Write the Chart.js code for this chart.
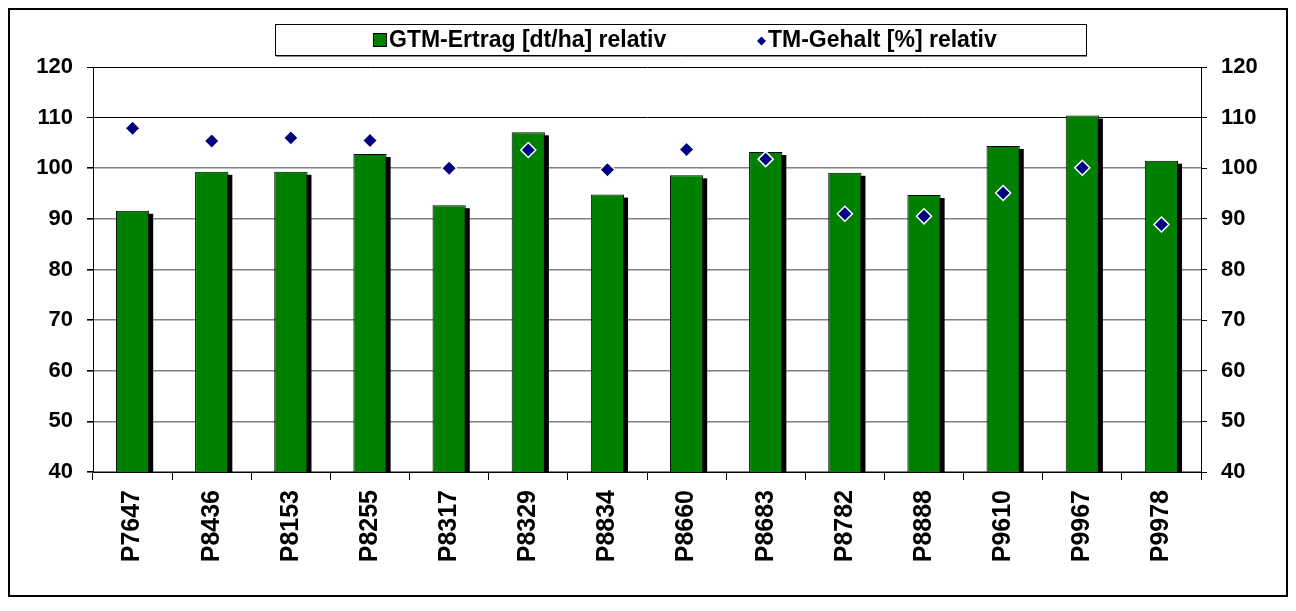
<!DOCTYPE html>
<html>
<head>
<meta charset="utf-8">
<script src="https://cdn.jsdelivr.net/npm/chart.js@4/dist/chart.umd.min.js"></script>
<style>
  html, body { margin: 0; padding: 0; background: #fff; }
  #wrap { position: relative; width: 1296px; height: 611px; }
</style>
</head>
<body>
<div id="wrap"><canvas id="c" width="1296" height="611"></canvas></div>
<script>
const categories = ['P7647','P8436','P8153','P8255','P8317','P8329','P8834','P8660','P8683','P8782','P8888','P9610','P9967','P9978'];
const gtmErtrag = [91.6, 99.3, 99.3, 102.8, 92.7, 107.1, 94.8, 98.6, 103.2, 99.1, 94.7, 104.4, 110.4, 101.5];
const tmGehalt = [107.9, 105.4, 106.0, 105.5, 100.0, 103.6, 99.7, 103.7, 101.8, 91.0, 90.5, 95.1, 100.1, 88.9];
const yTicks = [40, 50, 60, 70, 80, 90, 100, 110, 120];
const seriesNames = ['GTM-Ertrag [dt/ha] relativ', 'TM-Gehalt [%] relativ'];

const FONT = '"Liberation Sans", Arial, sans-serif';

const framePlugin = {
  id: 'frame',
  beforeDraw(chart) {
    const ctx = chart.ctx;
    ctx.save();
    ctx.fillStyle = '#fff';
    ctx.fillRect(0, 0, chart.width, chart.height);
    ctx.strokeStyle = '#000';
    ctx.lineWidth = 2;
    ctx.strokeRect(9, 9, 1278, 587);
    ctx.restore();
  }
};

// Draws a solid black drop shadow behind each bar, from the bar elements' own geometry
const shadowPlugin = {
  id: 'barShadow',
  beforeDatasetDraw(chart, args) {
    if (args.index !== 0) return;
    const ctx = chart.ctx;
    const area = chart.chartArea;
    const meta = chart.getDatasetMeta(0);
    ctx.save();
    ctx.beginPath();
    ctx.rect(area.left, area.top, area.right - area.left, area.bottom - area.top);
    ctx.clip();
    ctx.fillStyle = '#000';
    meta.data.forEach(bar => {
      const p = bar.getProps(['x', 'y', 'base', 'width'], true);
      const left = p.x - p.width / 2 + 4;
      const top = Math.min(p.y, p.base) + 3;
      ctx.fillRect(left, top, p.width, Math.abs(p.base - p.y));
    });
    ctx.restore();
  }
};

const legendPlugin = {
  id: 'boxLegend',
  afterDraw(chart) {
    const ctx = chart.ctx;
    const ds = chart.data.datasets;
    ctx.save();
    ctx.strokeStyle = '#000';
    ctx.lineWidth = 1;
    ctx.strokeRect(275.5, 24.5, 811, 31);
    ctx.strokeStyle = '#888';
    ctx.beginPath(); ctx.moveTo(276, 56.5); ctx.lineTo(1087, 56.5); ctx.stroke();
    ctx.font = 'bold 23px ' + FONT;
    ctx.textBaseline = 'middle';
    ctx.textAlign = 'left';
    const cy = 40.5;
    ctx.fillStyle = ds[0].backgroundColor;
    ctx.fillRect(373.5, 33.5, 13, 13);
    ctx.strokeStyle = '#000';
    ctx.strokeRect(373.5, 33.5, 13, 13);
    ctx.fillStyle = '#000';
    ctx.fillText(ds[0].label, 389, cy);
    ctx.fillStyle = ds[1].backgroundColor;
    ctx.beginPath();
    ctx.moveTo(761.5, 36.5); ctx.lineTo(766, 41); ctx.lineTo(761.5, 45.5); ctx.lineTo(757, 41);
    ctx.closePath(); ctx.fill();
    ctx.fillStyle = '#000';
    ctx.fillText(ds[1].label, 768, cy);
    ctx.restore();
  }
};

const gridColor = (c) => (c.tick && c.tick.value >= 110) ? '#000' : '#808080';
const gridWidth = (c) => (c.tick && c.tick.value >= 110) ? 1 : 1.6;

new Chart(document.getElementById('c'), {
  data: {
    labels: categories,
    datasets: [
      {
        type: 'bar',
        label: seriesNames[0],
        data: gtmErtrag,
        backgroundColor: '#008000',
        borderColor: '#000',
        borderWidth: 1,
        barPercentage: 0.42,
        categoryPercentage: 1,
        yAxisID: 'y',
        order: 2
      },
      {
        type: 'line',
        label: seriesNames[1],
        data: tmGehalt,
        showLine: false,
        pointStyle: 'rectRot',
        pointRadius: 7.5,
        pointHoverRadius: 7.5,
        backgroundColor: '#000080',
        borderColor: '#ffffff',
        pointBorderColor: '#ffffff',
        pointBackgroundColor: '#000080',
        pointBorderWidth: 1.5,
        yAxisID: 'y',
        order: 1
      }
    ]
  },
  options: {
    responsive: false,
    animation: false,
    devicePixelRatio: 1,
    layout: { padding: { top: 67, left: 0, right: 0, bottom: 0 } },
    plugins: {
      legend: { display: false },
      tooltip: { enabled: false },
      title: { display: false }
    },
    scales: {
      x: {
        type: 'category',
        offset: true,
        grid: {
          offset: true,
          drawOnChartArea: false,
          drawTicks: true,
          tickLength: 8,
          color: '#000',
          lineWidth: 1
        },
        border: { display: true, color: '#000', width: 1 },
        ticks: {
          color: '#000',
          font: { family: FONT, size: 25, weight: 'bold' },
          minRotation: 90,
          maxRotation: 90,
          padding: 10,
          autoSkip: false
        },
        afterFit(scale) { scale.height = 139; }
      },
      y: {
        position: 'left',
        min: 40,
        max: 120,
        afterBuildTicks(scale) { scale.ticks = yTicks.map(v => ({ value: v })); },
        grid: {
          color: gridColor,
          lineWidth: gridWidth,
          drawTicks: true,
          tickLength: 6,
          tickColor: '#000'
        },
        border: { display: true, color: '#000', width: 1 },
        ticks: {
          color: '#000',
          font: { family: FONT, size: 22, weight: 'bold' },
          padding: 14
        },
        afterFit(scale) { scale.width = 93; }
      },
      y2: {
        position: 'right',
        min: 40,
        max: 120,
        afterBuildTicks(scale) { scale.ticks = yTicks.map(v => ({ value: v })); },
        grid: {
          drawOnChartArea: false,
          drawTicks: true,
          tickLength: 6,
          color: '#000'
        },
        border: { display: true, color: '#000', width: 1 },
        ticks: {
          color: '#000',
          font: { family: FONT, size: 22, weight: 'bold' },
          padding: 14
        },
        afterFit(scale) { scale.width = 95; }
      }
    }
  },
  plugins: [framePlugin, shadowPlugin, legendPlugin]
});
</script>
</body>
</html>
